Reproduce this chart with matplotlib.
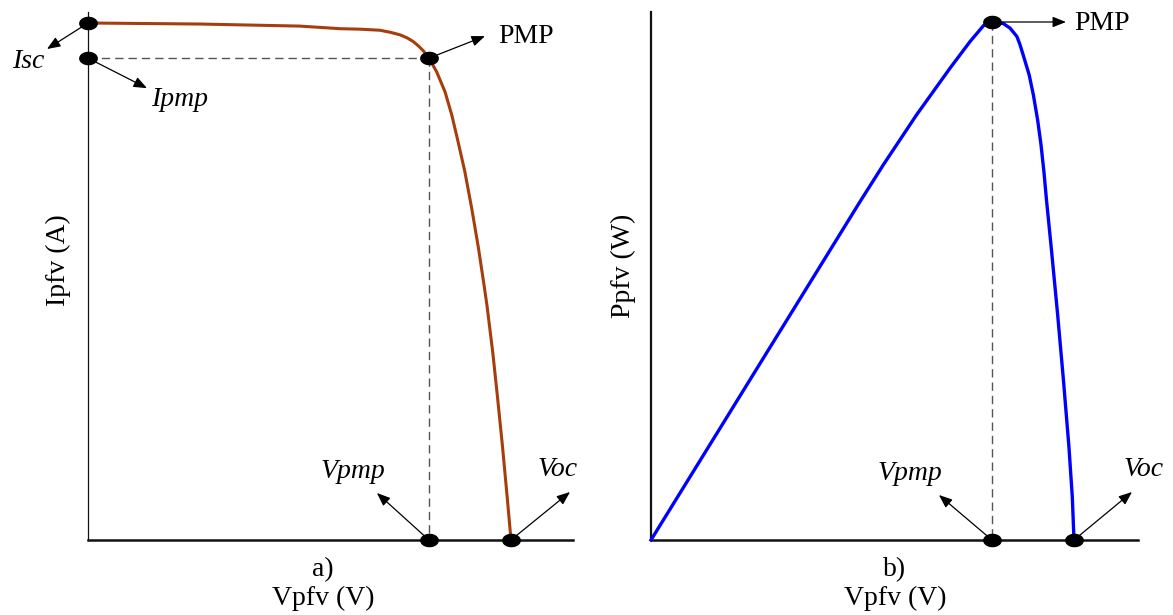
import numpy as np
import matplotlib
matplotlib.use("Agg")
from matplotlib import pyplot as plt
from matplotlib.path import Path
from matplotlib.transforms import offset_copy

plt.rcParams['font.family'] = ['Liberation Serif', 'DejaVu Serif']

# I-V curve (normalised: V/Voc, I/Isc)
v_iv = [0.000, 0.265, 0.501, 0.596, 0.645, 0.690, 0.715, 0.738, 0.755, 0.769,
        0.782, 0.793, 0.806, 0.824, 0.844, 0.860, 0.875, 0.891, 0.907, 0.923,
        0.935, 0.943, 0.957, 0.968, 0.980, 0.991, 1.000]
i_iv = [1.000, 0.998, 0.994, 0.989, 0.988, 0.986, 0.982, 0.977, 0.971, 0.964,
        0.955, 0.946, 0.932, 0.906, 0.867, 0.822, 0.770, 0.712, 0.642, 0.565,
        0.500, 0.455, 0.362, 0.277, 0.180, 0.083, 0.000]

# P-V curve (normalised: V/Voc, P/Pmax)
v_pv = [0.000, 0.494, 0.549, 0.628, 0.707, 0.754, 0.786, 0.806, 0.833, 0.849,
        0.865, 0.872, 0.880, 0.894, 0.904, 0.914, 0.922, 0.929, 0.935, 0.946,
        0.961, 0.975, 0.988, 0.996, 1.000]
p_pv = [0.000, 0.653, 0.724, 0.821, 0.911, 0.962, 0.993, 1.000, 0.997, 0.988,
        0.972, 0.957, 0.936, 0.898, 0.859, 0.811, 0.763, 0.710, 0.656, 0.566,
        0.438, 0.309, 0.180, 0.083, 0.000]

# key points
isc = 1.0
ipmp = 0.932
vpmp = 0.806
voc = 1.0
pmax = 1.0

W, H = 1173, 615
fig = plt.figure(figsize=(W / 100, H / 100), dpi=100)

# ellipse marker for the dots
t = np.linspace(0, 2 * np.pi, 60)
dot = Path(np.column_stack([np.cos(t), 0.7 * np.sin(t)]), closed=True)
dot_kw = dict(marker=dot, markersize=12.5, color='black', linestyle='none',
              clip_on=False, zorder=5)
dash_kw = dict(color='#555555', lw=1.0, dashes=(6, 3.6), zorder=2)
FS = 20


def arrow(ax, x, y, dx, dy):
    # arrow from a data point to an offset given in pixels
    tip = offset_copy(ax.transData, fig=fig, x=dx, y=dy, units='dots')
    ax.annotate('', xy=(x, y), xycoords=tip, xytext=(x, y), textcoords='data',
                arrowprops=dict(arrowstyle='-|>,head_length=0.5,head_width=0.2',
                                mutation_scale=16, color='black', lw=0.9,
                                shrinkA=0, shrinkB=0),
                annotation_clip=False, zorder=4)


def label(ax, x, y, dx, dy, txt, italic=True):
    ax.annotate(txt, xy=(x, y), xytext=(dx, dy), textcoords='offset pixels',
                ha='center', va='center', fontsize=FS,
                style='italic' if italic else 'normal', annotation_clip=False)


def setup(ax, lw_left):
    for s in ['top', 'right']:
        ax.spines[s].set_visible(False)
    ax.spines['left'].set_linewidth(lw_left)
    ax.spines['bottom'].set_linewidth(1.8)
    ax.spines['left'].set_color('#111111')
    ax.spines['bottom'].set_color('#111111')
    ax.set_xticks([])
    ax.set_yticks([])


# ---- a) I-V curve
ax1 = fig.add_axes([88 / W, 75 / H, 485 / W, 528 / H])
setup(ax1, 0.9)
ax1.set_xlim(0, 485 / 423)
ax1.set_ylim(0, 528 / 517)
ax1.plot(v_iv, i_iv, color='#A63D0C', lw=2.2, zorder=3, clip_on=False,
         solid_joinstyle='round')
ax1.plot([0, vpmp], [ipmp, ipmp], **dash_kw)
ax1.plot([vpmp, vpmp], [ipmp, 0], **dash_kw)
ax1.plot([0, 0, vpmp, vpmp, voc], [isc, ipmp, ipmp, 0, 0], **dot_kw)

arrow(ax1, 0, isc, -41, -26)
label(ax1, 0, isc, -60, -39, 'Isc')
arrow(ax1, 0, ipmp, 59, -30)
label(ax1, 0, ipmp, 92, -41, 'Ipmp')
arrow(ax1, vpmp, ipmp, 56, 22)
label(ax1, vpmp, ipmp, 97, 22, 'PMP', italic=False)
arrow(ax1, vpmp, 0, -52, 47)
label(ax1, vpmp, 0, -76, 68, 'Vpmp')
arrow(ax1, voc, 0, 59, 48)
label(ax1, voc, 0, 47, 71, 'Voc')

# ---- b) P-V curve
ax2 = fig.add_axes([651 / W, 75 / H, 487 / W, 528 / H])
setup(ax2, 1.6)
ax2.set_xlim(0, 487 / 423)
ax2.set_ylim(0, 528 / 518)
ax2.plot(v_pv, p_pv, color='#0000FF', lw=2.4, zorder=3, clip_on=False,
         solid_joinstyle='round')
ax2.plot([vpmp, vpmp], [pmax, 0], **dash_kw)
ax2.plot([vpmp, vpmp, voc], [pmax, 0, 0], **dot_kw)

arrow(ax2, vpmp, pmax, 74, 0)
label(ax2, vpmp, pmax, 110, -2, 'PMP', italic=False)
arrow(ax2, vpmp, 0, -53, 45)
label(ax2, vpmp, 0, -82, 66, 'Vpmp')
arrow(ax2, voc, 0, 58, 48)
label(ax2, voc, 0, 70, 71, 'Voc')

# axis titles
fig.text(323 / W, 1 - 584 / H, 'a)\nVpfv (V)', ha='center', va='center',
         fontsize=FS, linespacing=1.15)
fig.text(895 / W, 1 - 584 / H, 'b)\nVpfv (V)', ha='center', va='center',
         fontsize=FS, linespacing=1.15)
fig.text(58 / W, 1 - 260 / H, 'Ipfv (A)', rotation=90, ha='center',
         va='center', fontsize=FS)
fig.text(623 / W, 1 - 266 / H, 'Ppfv (W)', rotation=90, ha='center',
         va='center', fontsize=FS)

fig.savefig('out.png', dpi=100)
